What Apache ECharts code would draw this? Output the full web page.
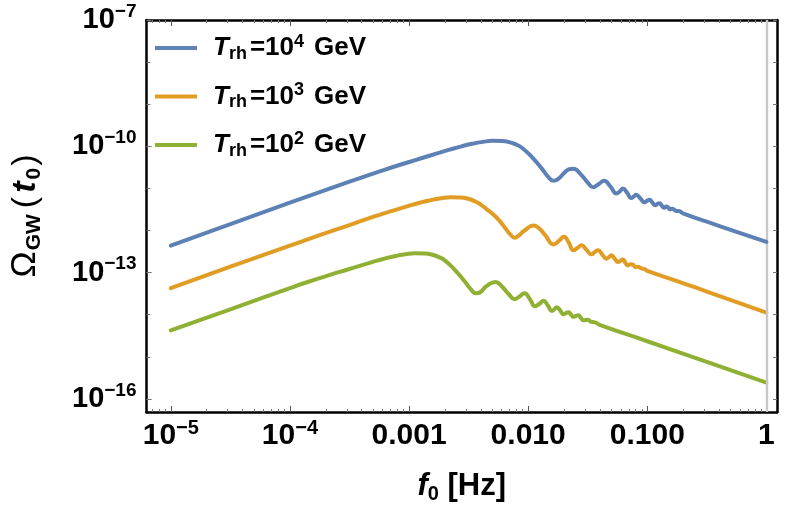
<!DOCTYPE html>
<html>
<head>
<meta charset="utf-8">
<script src="https://cdn.jsdelivr.net/npm/echarts@6/dist/echarts.min.js"></script>
<style>
html,body{margin:0;padding:0;background:#fff;}
#chart{width:789px;height:514px;}
</style>
</head>
<body>
<div id="chart"></div>
<script>
// ---------- data (log10 values) ----------
const seriesTrh = ['4', '3', '2'];               // exponent of T_rh in GeV
const seriesColors = ['#5E81B5', '#E19C24', '#8FB032'];

const logF_1e4 = [-5.00,-4.50,-4.00,-3.75,-3.50,-3.22,-2.94,-2.80,-2.66,-2.56,-2.47,-2.38,-2.30,-2.22,-2.16,-2.10,-2.05,-1.97,-1.885,-1.83,-1.787,-1.745,-1.70,-1.66,-1.62,-1.56,-1.50,-1.454,-1.41,-1.362,-1.31,-1.259,-1.23,-1.204,-1.17,-1.134,-1.112,-1.093,-1.058,-1.023,-1.00,-0.981,-0.958,-0.934,-0.916,-0.898,-0.878,-0.857,-0.84,-0.825,-0.81,-0.79,-0.76,-0.73,-0.70,-0.50,-0.25,0.00];
const logOmega_1e4 = [-12.36,-11.85,-11.34,-11.09,-10.84,-10.57,-10.32,-10.20,-10.08,-10.00,-9.94,-9.895,-9.87,-9.875,-9.90,-9.96,-10.04,-10.25,-10.53,-10.73,-10.82,-10.77,-10.64,-10.55,-10.53,-10.66,-10.86,-10.97,-10.90,-10.82,-10.95,-11.12,-11.07,-11.00,-11.10,-11.23,-11.19,-11.15,-11.24,-11.33,-11.29,-11.27,-11.33,-11.40,-11.37,-11.35,-11.41,-11.46,-11.43,-11.45,-11.50,-11.48,-11.53,-11.54,-11.59,-11.79,-12.03,-12.27];

const logF_1e3 = [-5.00,-4.50,-4.00,-3.75,-3.50,-3.29,-3.15,-3.01,-2.91,-2.82,-2.73,-2.65,-2.57,-2.51,-2.45,-2.40,-2.35,-2.30,-2.24,-2.19,-2.15,-2.113,-2.08,-2.03,-1.954,-1.90,-1.857,-1.787,-1.74,-1.70,-1.66,-1.62,-1.585,-1.551,-1.51,-1.468,-1.44,-1.412,-1.378,-1.343,-1.322,-1.301,-1.273,-1.245,-1.225,-1.204,-1.183,-1.162,-1.14,-1.12,-1.10,-1.08,-1.05,-1.02,-1.00,-0.75,-0.50,-0.25,0.00];
const logOmega_1e3 = [-13.37,-12.86,-12.36,-12.11,-11.87,-11.665,-11.54,-11.42,-11.34,-11.28,-11.235,-11.21,-11.215,-11.24,-11.30,-11.38,-11.49,-11.60,-11.77,-11.95,-12.09,-12.17,-12.12,-12.00,-11.88,-11.97,-12.11,-12.33,-12.24,-12.15,-12.28,-12.47,-12.41,-12.35,-12.46,-12.565,-12.51,-12.47,-12.57,-12.67,-12.63,-12.59,-12.67,-12.75,-12.72,-12.69,-12.77,-12.83,-12.80,-12.81,-12.87,-12.86,-12.90,-12.92,-12.96,-13.20,-13.45,-13.70,-13.95];

const logF_1e2 = [-5.00,-4.50,-4.00,-3.87,-3.59,-3.45,-3.31,-3.21,-3.12,-3.03,-2.95,-2.87,-2.81,-2.75,-2.70,-2.62,-2.535,-2.48,-2.437,-2.40,-2.35,-2.274,-2.22,-2.16,-2.115,-2.075,-2.03,-1.985,-1.941,-1.905,-1.871,-1.835,-1.801,-1.78,-1.76,-1.73,-1.704,-1.683,-1.662,-1.64,-1.62,-1.60,-1.579,-1.557,-1.537,-1.50,-1.47,-1.44,-1.40,-1.00,-0.50,0.00];
const logOmega_1e2 = [-14.37,-13.87,-13.37,-13.24,-12.99,-12.87,-12.75,-12.67,-12.61,-12.565,-12.54,-12.545,-12.57,-12.63,-12.71,-12.92,-13.20,-13.40,-13.49,-13.46,-13.32,-13.22,-13.33,-13.52,-13.63,-13.57,-13.49,-13.63,-13.80,-13.74,-13.67,-13.78,-13.91,-13.87,-13.82,-13.90,-13.99,-13.96,-13.94,-14.00,-14.05,-14.03,-14.01,-14.08,-14.13,-14.12,-14.17,-14.18,-14.24,-14.63,-15.12,-15.61];

// ---------- ticks ----------
const xTickValues = [1e-5, 1e-4, 1e-3, 1e-2, 1e-1, 1];
const xTickLabels = ['10^−5', '10^−4', '0.001', '0.010', '0.100', '1'];
const yTickValues = [1e-16, 1e-13, 1e-10, 1e-7];
const yTickLabels = ['10^−16', '10^−13', '10^−10', '10^−7'];
const xRange = [Math.pow(10, -5.204), Math.pow(10, 0.089)];
const yRange = [Math.pow(10, -16.31), 1e-7];
const markerFreq = 1;   // vertical grey line

const xMinorTicks = [];
for (let n = -6; n <= 0; n++) for (let k = 2; k <= 9; k++) xMinorTicks.push(k * Math.pow(10, n));
const yAllDecades = [];
for (let n = -16; n <= -7; n++) yAllDecades.push(Math.pow(10, n));

// ---------- helpers ----------
const FONT = '"Liberation Sans", Arial, Helvetica, sans-serif';
function richLabel(label) {
  const parts = label.split('^');
  return parts.length > 1 ? '{b|' + parts[0] + '}{s|' + parts[1] + '}' : '{b|' + parts[0] + '}';
}
function labelFor(values, labels) {
  return function (v) {
    for (let i = 0; i < values.length; i++) {
      if (Math.abs(Math.log10(values[i]) - Math.log10(v)) < 1e-6) return richLabel(labels[i]);
    }
    return '';
  };
}
function toPairs(lf, lo) { return lf.map((v, i) => [Math.pow(10, v), Math.pow(10, lo[i])]); }

const tickRichX = {
  b: { fontFamily: FONT, fontSize: 30, fontWeight: 'bold', color: '#000', lineHeight: 36 },
  s: { fontFamily: FONT, fontSize: 20, fontWeight: 'bold', color: '#000', lineHeight: 16, verticalAlign: 'top' }
};
const tickRichY = {
  b: { fontFamily: FONT, fontSize: 29, fontWeight: 'bold', color: '#000', lineHeight: 36 },
  s: { fontFamily: FONT, fontSize: 19, fontWeight: 'bold', color: '#000', lineHeight: 16, verticalAlign: 'top' }
};

function baseAxis(extra) {
  return Object.assign({
    type: 'log', logBase: 10, gridIndex: 0, silent: true,
    splitLine: { show: false }, minorTick: { show: false }, minorSplitLine: { show: false }
  }, extra);
}
const frameLine = { show: true, lineStyle: { color: '#000', width: 2.5 } };

const xAxes = [
  baseAxis({ position: 'bottom', min: xRange[0], max: xRange[1],
    axisLine: frameLine,
    axisTick: { show: true, inside: true, length: 6, lineStyle: { color: '#555', width: 1 }, customValues: xTickValues },
    axisLabel: { show: true, margin: 6, customValues: xTickValues, formatter: labelFor(xTickValues, xTickLabels), rich: tickRichX },
    name: '{f|f}{z|0}{h| [Hz]}', nameLocation: 'middle', nameGap: 56,
    nameTextStyle: { rich: {
      f: { fontFamily: FONT, fontSize: 31, fontWeight: 'bold', fontStyle: 'italic', color: '#000', lineHeight: 36 },
      z: { fontFamily: FONT, fontSize: 20, fontWeight: 'bold', color: '#000', lineHeight: 16, verticalAlign: 'bottom' },
      h: { fontFamily: FONT, fontSize: 31, fontWeight: 'bold', color: '#000', lineHeight: 36 }
    } }
  }),
  baseAxis({ position: 'bottom', min: xRange[0], max: xRange[1],
    axisLine: { show: false },
    axisTick: { show: true, inside: true, length: 3, lineStyle: { color: '#777', width: 1 }, customValues: xMinorTicks },
    axisLabel: { show: false }
  }),
  baseAxis({ position: 'top', min: xRange[0], max: xRange[1],
    axisLine: frameLine,
    axisTick: { show: true, inside: true, length: 6, lineStyle: { color: '#555', width: 1 }, customValues: xTickValues },
    axisLabel: { show: false }
  }),
  baseAxis({ position: 'top', min: xRange[0], max: xRange[1],
    axisLine: { show: false },
    axisTick: { show: true, inside: true, length: 3, lineStyle: { color: '#777', width: 1 }, customValues: xMinorTicks },
    axisLabel: { show: false }
  })
];

const yAxes = [
  baseAxis({ position: 'left', min: yRange[0], max: yRange[1],
    axisLine: frameLine,
    axisTick: { show: true, inside: true, length: 5, lineStyle: { color: '#555', width: 1 }, customValues: yTickValues },
    axisLabel: { show: true, margin: 10, customValues: yTickValues, formatter: labelFor(yTickValues, yTickLabels), rich: tickRichY },
    name: '{o|Ω}{g|GW}{p|(}{t|t}{z|0}{p|)}', nameLocation: 'middle', nameGap: 102, nameRotate: 90,
    nameTextStyle: { rich: {
      o: { fontFamily: FONT, fontSize: 35, color: '#000', lineHeight: 38 },
      g: { fontFamily: FONT, fontSize: 21, fontWeight: 'bold', color: '#000', lineHeight: 16, verticalAlign: 'bottom', padding: [0, 6, 0, 1] },
      p: { fontFamily: FONT, fontSize: 34, color: '#000', lineHeight: 38 },
      t: { fontFamily: FONT, fontSize: 34, fontWeight: 'bold', fontStyle: 'italic', color: '#000', lineHeight: 38, padding: [0, 2, 0, 4] },
      z: { fontFamily: FONT, fontSize: 21, fontWeight: 'bold', color: '#000', lineHeight: 16, verticalAlign: 'bottom', padding: [0, 2, 0, 0] }
    } }
  }),
  baseAxis({ position: 'left', min: yRange[0], max: yRange[1],
    axisLine: { show: false },
    axisTick: { show: true, inside: true, length: 4, lineStyle: { color: '#777', width: 1 }, customValues: yAllDecades },
    axisLabel: { show: false }
  }),
  baseAxis({ position: 'right', min: yRange[0], max: yRange[1],
    axisLine: frameLine,
    axisTick: { show: true, inside: true, length: 4, lineStyle: { color: '#777', width: 1 }, customValues: yAllDecades },
    axisLabel: { show: false }
  })
];

const seriesData = [toPairs(logF_1e4, logOmega_1e4), toPairs(logF_1e3, logOmega_1e3), toPairs(logF_1e2, logOmega_1e2)];
const seriesNames = seriesTrh.map(e => 'T_rh=10^' + e + ' GeV');

const series = seriesData.map((d, i) => ({
  name: seriesNames[i],
  type: 'line',
  xAxisIndex: 0, yAxisIndex: 0,
  data: d,
  showSymbol: false,
  smooth: 0.5,
  lineStyle: { color: seriesColors[i], width: 4, cap: 'round', join: 'round' },
  itemStyle: { color: seriesColors[i] },
  z: 5 - i,
  markLine: i === 0 ? {
    silent: true, symbol: ['none', 'none'], label: { show: false },
    lineStyle: { color: '#c8c8c8', width: 2.4, type: 'solid' },
    data: [{ xAxis: markerFreq }], animation: false
  } : undefined
}));

const legendRich = {
  T: { fontFamily: FONT, fontSize: 26, fontWeight: 'bold', fontStyle: 'italic', color: '#000', lineHeight: 30, padding: [0, 0, 0, 11] },
  r: { fontFamily: FONT, fontSize: 18, fontWeight: 'bold', color: '#000', lineHeight: 14, verticalAlign: 'bottom' },
  e: { fontFamily: FONT, fontSize: 26, fontWeight: 'bold', color: '#000', lineHeight: 30, padding: [0, 0, 0, 3] },
  p: { fontFamily: FONT, fontSize: 18, fontWeight: 'bold', color: '#000', lineHeight: 14, verticalAlign: 'top' },
  g: { fontFamily: FONT, fontSize: 26, fontWeight: 'bold', color: '#000', lineHeight: 30, padding: [0, 0, 0, 10] }
};

const chart = echarts.init(document.getElementById('chart'), null, { renderer: 'canvas' });
chart.setOption({
  animation: false,
  backgroundColor: '#fff',
  grid: { left: 142, right: 12, top: 20, bottom: 102 },
  xAxis: xAxes,
  yAxis: yAxes,
  legend: {
    orient: 'vertical', left: 155, top: 33, padding: 0,
    itemWidth: 42, itemHeight: 4, itemGap: 18.5, icon: 'rect',
    data: seriesNames,
    formatter: function (name) {
      const i = seriesNames.indexOf(name);
      return '{T|T}{r|rh}{e|=10}{p|' + seriesTrh[i] + '}{g|GeV}';
    },
    textStyle: { rich: legendRich }
  },
  series: series
});
</script>
</body>
</html>
